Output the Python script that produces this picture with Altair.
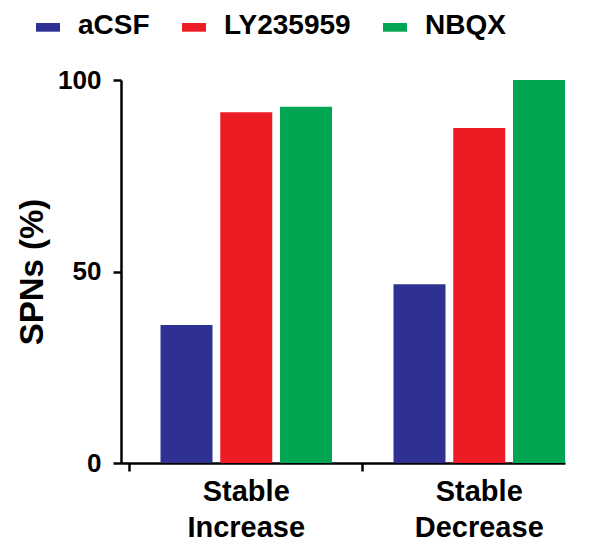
import altair as alt
import pandas as pd

conditions = ["Stable|Increase", "Stable|Decrease"]
treatments = ["aCSF", "LY235959", "NBQX"]
colors = ["#2E3192", "#ED1C24", "#00A651"]
values_increase = [36, 91.6, 93]
values_decrease = [46.7, 87.5, 100]
y_ticks = [0, 50, 100]

rows = []
for cond, vals in zip(conditions, [values_increase, values_decrease]):
    for t, v in zip(treatments, vals):
        rows.append({"cond": cond, "treat": t, "val": v})
df = pd.DataFrame(rows)

FONT = "Liberation Sans"

chart = alt.Chart(df).mark_bar().encode(
    x=alt.X(
        "cond:N",
        sort=conditions,
        scale=alt.Scale(paddingInner=0.264, paddingOuter=0.0848, align=1),
        axis=alt.Axis(
            title=None,
            bandPosition=0,
            tickOffset=-31.5,
            labelOffset=31,
            labelExpr="split(datum.value, '|')",
            labelFont=FONT,
            labelFontSize=29,
            labelFontWeight="bold",
            labelColor="black",
            labelLineHeight=36,
            labelPadding=6,
            labelAngle=0,
            tickSize=8,
            tickWidth=2.5,
            tickColor="black",
            domainWidth=2.5,
            domainColor="black",
        ),
    ),
    xOffset=alt.XOffset(
        "treat:N", sort=treatments, scale=alt.Scale(paddingInner=0.13, paddingOuter=0)
    ),
    y=alt.Y(
        "val:Q",
        scale=alt.Scale(domain=[0, 100], nice=False),
        axis=alt.Axis(
            title="SPNs (%)",
            values=y_ticks,
            labelFont=FONT,
            labelFontSize=26,
            labelFontWeight="bold",
            labelColor="black",
            labelPadding=12,
            tickSize=8,
            tickWidth=2.5,
            tickColor="black",
            domainWidth=2.5,
            domainColor="black",
            titleFont=FONT,
            titleFontSize=33,
            titleFontWeight="bold",
            titleColor="black",
            titlePadding=8,
            grid=False,
        ),
    ),
    color=alt.Color(
        "treat:N",
        sort=treatments,
        scale=alt.Scale(domain=treatments, range=colors),
        legend=alt.Legend(
            title=None,
            orient="none",
            direction="horizontal",
            legendX=-93,
            legendY=-68,
            padding=0,
            symbolType="M-1,-0.5H3V0.95H-1Z",
            symbolSize=144,
            symbolStrokeWidth=0,
            symbolOpacity=1,
            labelFont=FONT,
            labelFontSize=28,
            labelFontWeight="bold",
            labelColor="black",
            labelOffset=22,
            columnPadding=24,
            labelLimit=300,
        ),
    ),
).properties(
    width=444,
    height=383,
    autosize="none",
    padding={"left": 113, "top": 72, "right": 31, "bottom": 80},
).configure_view(stroke=None)

chart.save("out.html", embed_options={"renderer": "svg", "actions": False})
